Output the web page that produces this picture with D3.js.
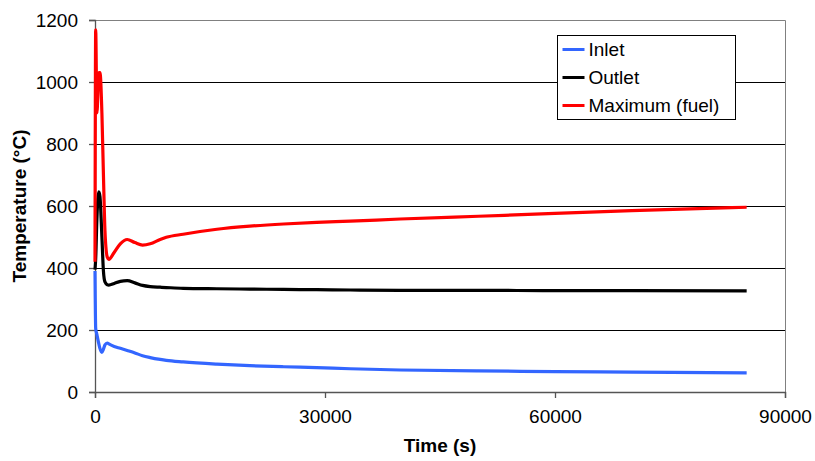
<!DOCTYPE html>
<html>
<head>
<meta charset="utf-8">
<script src="https://cdn.jsdelivr.net/npm/d3@7"></script>
<style>
  body { margin: 0; background: #fff; }
  svg { font-family: 'Liberation Sans', Arial, sans-serif; }
</style>
</head>
<body>
<svg width="815" height="461"></svg>
<script>
// time in seconds, shared by all three series
const times = [0, 90, 250, 500, 650, 900, 1100, 1300, 1600, 1800, 2500, 3300, 4200, 5200, 6200, 7200, 8500, 9300, 11500, 15900, 20200, 24600, 28900, 33300, 39800, 50000, 60000, 70000, 85000];

const inlet = [390, 205, 185, 155, 140, 128, 138, 152, 158, 155, 147, 141, 134, 126, 117, 111, 105, 102, 97, 90, 85, 81.5, 78.5, 75, 71, 68, 66, 64, 62];
const outlet = [395, 430, 560, 646, 630, 500, 390, 355, 346, 345, 350, 357, 359, 352, 344, 340, 338, 337, 334.5, 333, 332, 331, 330, 329, 328, 328, 327, 327, 326];
const maxFuel = [420, 1168, 900, 1030, 1030, 900, 700, 520, 435, 428, 450, 478, 492, 482, 474, 478, 492, 499, 509, 525, 535, 542, 547, 551, 558, 567, 576, 585, 596];

const seriesNames = ['Inlet', 'Outlet', 'Maximum (fuel)'];
const seriesColors = ['#3366ff', '#000000', '#ff0000'];
const xTicks = [0, 30000, 60000, 90000];
const yTicks = [0, 200, 400, 600, 800, 1000, 1200];

const svg = d3.select('svg');
const margin = { top: 20, right: 30, bottom: 69, left: 95 };
const width = 815 - margin.left - margin.right;   // 690
const height = 461 - margin.top - margin.bottom;  // 372

const g = svg.append('g').attr('transform', `translate(${margin.left},${margin.top})`);

const x = d3.scaleLinear().domain([0, 90000]).range([0, width]);
const y = d3.scaleLinear().domain([0, 1200]).range([height, 0]);

// gridlines
g.selectAll('.grid')
  .data(yTicks.filter(d => d > 0 && d < 1200))
  .enter()
  .append('line')
  .attr('x1', 0)
  .attr('x2', width)
  .attr('y1', d => Math.round(y(d)) + 0.5)
  .attr('y2', d => Math.round(y(d)) + 0.5)
  .attr('stroke', '#000')
  .attr('stroke-width', 1);

// plot area border (top + right)
g.append('path')
  .attr('d', `M0,0.5H${width + 0.5}V${height}`)
  .attr('fill', 'none')
  .attr('stroke', '#808080')
  .attr('stroke-width', 1);

const xAxis = g.append('g')
  .attr('transform', `translate(0,${height})`)
  .call(d3.axisBottom(x).tickValues(xTicks).tickFormat(d3.format('d')).tickSize(6).tickPadding(12));

const yAxis = g.append('g')
  .call(d3.axisLeft(y).tickValues(yTicks).tickFormat(d3.format('d')).tickSize(6).tickPadding(11));

[xAxis, yAxis].forEach(ax => {
  ax.attr('font-family', null);
  ax.select('.domain').attr('stroke', '#555').attr('stroke-width', 1.3);
  ax.selectAll('.tick line').attr('stroke', '#555').attr('stroke-width', 1.3);
  ax.selectAll('.tick text').attr('font-size', 19).attr('fill', '#000');
});

// lines
const line = d3.line()
  .x((d, i) => x(times[i]))
  .y(d => y(d))
  .curve(d3.curveMonotoneX);

[inlet, outlet, maxFuel].forEach((vals, i) => {
  g.append('path')
    .datum(vals)
    .attr('fill', 'none')
    .attr('stroke', seriesColors[i])
    .attr('stroke-width', 3.2)
    .attr('stroke-linejoin', 'round')
    .attr('d', line);
});

// axis titles
svg.append('text')
  .attr('x', margin.left + width / 2)
  .attr('y', 452)
  .attr('text-anchor', 'middle')
  .attr('font-size', 19)
  .attr('font-weight', 'bold')
  .text('Time (s)');

svg.append('text')
  .attr('transform', `translate(26,${margin.top + height / 2}) rotate(-90)`)
  .attr('text-anchor', 'middle')
  .attr('font-size', 19)
  .attr('font-weight', 'bold')
  .text('Temperature (°C)');

// legend
const legend = svg.append('g').attr('transform', 'translate(557.5,35.5)');
legend.append('rect')
  .attr('width', 178)
  .attr('height', 84)
  .attr('fill', '#fff')
  .attr('stroke', '#000')
  .attr('stroke-width', 1);

const items = legend.selectAll('.item')
  .data(seriesNames)
  .enter()
  .append('g')
  .attr('transform', (d, i) => `translate(0,${14 + i * 28})`);

items.append('line')
  .attr('x1', 5)
  .attr('x2', 27)
  .attr('stroke', (d, i) => seriesColors[i])
  .attr('stroke-width', 3);

items.append('text')
  .attr('x', 31)
  .attr('dy', '0.35em')
  .attr('font-size', 19)
  .text(d => d);
</script>
</body>
</html>
